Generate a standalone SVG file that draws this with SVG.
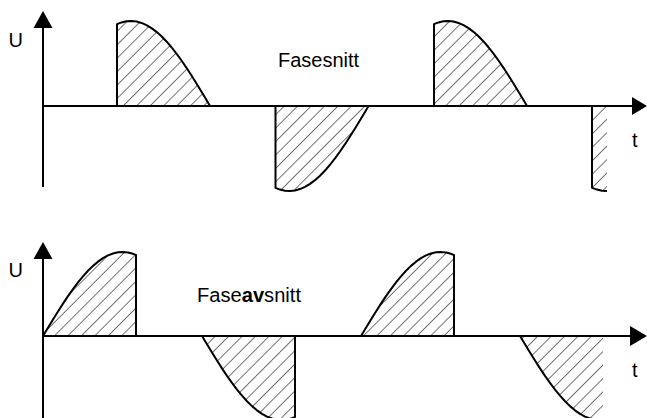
<svg xmlns="http://www.w3.org/2000/svg" width="647" height="418" viewBox="0 0 647 418">
<style>
.hatch{fill:url(#h);stroke:none}
.edge{fill:none;stroke:#000;stroke-width:2;stroke-linejoin:round}
.axis{stroke:#000;stroke-width:2;fill:none}
.head{fill:#000;stroke:none}
text{font-family:"Liberation Sans",Arial,sans-serif;font-size:20px;fill:#000}
</style>
<defs>
<pattern id="h" patternUnits="userSpaceOnUse" width="9.5" height="10" patternTransform="rotate(45)">
<line x1="0" y1="0" x2="0" y2="10" stroke="#000" stroke-width="1.1"/>
</pattern>
</defs>
<rect width="647" height="418" fill="#fff"/>

<g id="top-hump-1">
<path class="hatch" d="M117,106 V24.14 L121.5,22.42 L126.5,21.3 L131.5,21.01 L136.5,21.55 L141.5,22.92 L146.5,25.11 L151.5,28.09 L156.5,31.83 L161.5,36.3 L166.5,41.46 L171.5,47.25 L176.5,53.63 L181.5,60.5 L186.5,67.83 L191.5,75.53 L196.5,83.53 L201.5,91.75 L206.5,100.11 L210,106 Z"/>
<path class="edge" d="M117,106 V24.14 L121.5,22.42 L126.5,21.3 L131.5,21.01 L136.5,21.55 L141.5,22.92 L146.5,25.11 L151.5,28.09 L156.5,31.83 L161.5,36.3 L166.5,41.46 L171.5,47.25 L176.5,53.63 L181.5,60.5 L186.5,67.83 L191.5,75.53 L196.5,83.53 L201.5,91.75 L206.5,100.11 L210,106"/>
</g>
<g id="top-hump-2">
<path class="hatch" d="M275.5,106 V187.86 L280,189.58 L285,190.7 L290,190.99 L295,190.45 L300,189.08 L305,186.89 L310,183.91 L315,180.17 L320,175.7 L325,170.54 L330,164.75 L335,158.37 L340,151.5 L345,144.17 L350,136.47 L355,128.47 L360,120.25 L365,111.89 L368.5,106 Z"/>
<path class="edge" d="M275.5,106 V187.86 L280,189.58 L285,190.7 L290,190.99 L295,190.45 L300,189.08 L305,186.89 L310,183.91 L315,180.17 L320,175.7 L325,170.54 L330,164.75 L335,158.37 L340,151.5 L345,144.17 L350,136.47 L355,128.47 L360,120.25 L365,111.89 L368.5,106"/>
</g>
<g id="top-hump-3">
<path class="hatch" d="M434,106 V24.14 L438.5,22.42 L443.5,21.3 L448.5,21.01 L453.5,21.55 L458.5,22.92 L463.5,25.11 L468.5,28.09 L473.5,31.83 L478.5,36.3 L483.5,41.46 L488.5,47.25 L493.5,53.63 L498.5,60.5 L503.5,67.83 L508.5,75.53 L513.5,83.53 L518.5,91.75 L523.5,100.11 L527,106 Z"/>
<path class="edge" d="M434,106 V24.14 L438.5,22.42 L443.5,21.3 L448.5,21.01 L453.5,21.55 L458.5,22.92 L463.5,25.11 L468.5,28.09 L473.5,31.83 L478.5,36.3 L483.5,41.46 L488.5,47.25 L493.5,53.63 L498.5,60.5 L503.5,67.83 L508.5,75.53 L513.5,83.53 L518.5,91.75 L523.5,100.11 L527,106"/>
</g>
<g id="top-hump-4">
<path class="hatch" d="M592,106 V187.86 L597,189.58 L602,190.7 L607,190.99 V106 Z"/>
<path class="edge" d="M592,106 V187.86 L597,189.58 L602,190.7 L607,190.99"/>
</g>

<g id="bottom-hump-1">
<path class="hatch" d="M43,336 L48,327.72 L53,319.51 L58,311.47 L63,303.66 L68,296.18 L73,289.09 L78,282.43 L83,276.33 L88,270.77 L93,265.88 L98,261.65 L103,258.16 L108,255.43 L113,253.48 L118,252.33 L122.5,252 L128,252.5 L133,253.81 L136,254.97 V336 Z"/>
<path class="edge" d="M43,336 L48,327.72 L53,319.51 L58,311.47 L63,303.66 L68,296.18 L73,289.09 L78,282.43 L83,276.33 L88,270.77 L93,265.88 L98,261.65 L103,258.16 L108,255.43 L113,253.48 L118,252.33 L122.5,252 L128,252.5 L133,253.81 L136,254.97 V336"/>
</g>
<g id="bottom-hump-2">
<path class="hatch" d="M202,336 L207,344.28 L212,352.49 L217,360.53 L222,368.34 L227,375.82 L232,382.91 L237,389.57 L242,395.67 L247,401.23 L252,406.12 L257,410.35 L262,413.84 L267,416.57 L272,418.52 L277,419.67 L281.5,420 L287,419.5 L292,418.19 L295,417.03 V336 Z"/>
<path class="edge" d="M202,336 L207,344.28 L212,352.49 L217,360.53 L222,368.34 L227,375.82 L232,382.91 L237,389.57 L242,395.67 L247,401.23 L252,406.12 L257,410.35 L262,413.84 L267,416.57 L272,418.52 L277,419.67 L281.5,420 L287,419.5 L292,418.19 L295,417.03 V336"/>
</g>
<g id="bottom-hump-3">
<path class="hatch" d="M361,336 L366,327.72 L371,319.51 L376,311.47 L381,303.66 L386,296.18 L391,289.09 L396,282.43 L401,276.33 L406,270.77 L411,265.88 L416,261.65 L421,258.16 L426,255.43 L431,253.48 L436,252.33 L440.5,252 L446,252.5 L451,253.81 L454,254.97 V336 Z"/>
<path class="edge" d="M361,336 L366,327.72 L371,319.51 L376,311.47 L381,303.66 L386,296.18 L391,289.09 L396,282.43 L401,276.33 L406,270.77 L411,265.88 L416,261.65 L421,258.16 L426,255.43 L431,253.48 L436,252.33 L440.5,252 L446,252.5 L451,253.81 L454,254.97 V336"/>
</g>
<g id="bottom-hump-4">
<path class="hatch" d="M520,336 L525,344.28 L530,352.49 L535,360.53 L540,368.34 L545,375.82 L550,382.91 L555,389.57 L560,395.67 L565,401.23 L570,406.12 L575,410.35 L580,413.84 L585,416.57 L590,418.52 L595,419.67 L599.5,420 L603,419.7 V336 Z"/>
<path class="edge" d="M520,336 L525,344.28 L530,352.49 L535,360.53 L540,368.34 L545,375.82 L550,382.91 L555,389.57 L560,395.67 L565,401.23 L570,406.12 L575,410.35 L580,413.84 L585,416.57 L590,418.52 L595,419.67 L599.5,420"/>
</g>

<g id="axes">
<line class="axis" x1="43" y1="187" x2="43" y2="26"/>
<polygon class="head" points="43,11 33.5,28 52.5,28"/>
<line class="axis" x1="43" y1="106" x2="634" y2="106"/>
<polygon class="head" points="647,106 632,97 632,115"/>
<line class="axis" x1="43" y1="418" x2="43" y2="257"/>
<polygon class="head" points="43,242 33.5,259 52.5,259"/>
<line class="axis" x1="43" y1="336" x2="632" y2="336"/>
<polygon class="head" points="647,336 630,326 630,346"/>
</g>

<g id="labels">
<text x="8.5" y="47">U</text>
<text x="278" y="67" font-size="21">Fasesnitt</text>
<text x="632" y="147">t</text>
<text x="8.5" y="277">U</text>
<text x="197" y="302" textLength="104" lengthAdjust="spacingAndGlyphs">Fase<tspan font-weight="bold">av</tspan>snitt</text>
<text x="632" y="377">t</text>
</g>
</svg>
